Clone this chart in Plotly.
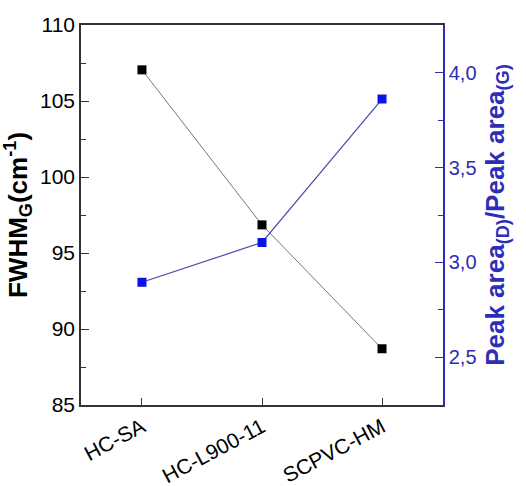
import plotly.graph_objects as go

categories = ["HC-SA", "HC-L900-11", "SCPVC-HM"]
fwhm_g = [107.05, 96.85, 88.7]
area_ratio = [2.895, 3.105, 3.862]

left_ticks = [85, 90, 95, 100, 105, 110]
right_ticks = [2.5, 3.0, 3.5, 4.0]
right_ticktext = ["2,5", "3,0", "3,5", "4,0"]

FONT = "Liberation Sans, Arial, sans-serif"
BLUE_AX = "#2d2db8"

fig = go.Figure()
fig.add_trace(go.Scatter(
    x=[0, 1, 2], y=fwhm_g, mode="lines+markers",
    line=dict(color="#777777", width=1),
    marker=dict(symbol="square", size=9, color="black"),
    yaxis="y", showlegend=False))
fig.add_trace(go.Scatter(
    x=[0, 1, 2], y=area_ratio, mode="lines+markers",
    line=dict(color="#4a4aa8", width=1.2),
    marker=dict(symbol="square", size=9, color="#0a14e6"),
    yaxis="y2", showlegend=False))

fig.update_layout(
    width=526, height=486,
    margin=dict(l=81, r=83, t=25, b=81),
    plot_bgcolor="white", paper_bgcolor="white",
    font=dict(family=FONT, color="black"),
    xaxis=dict(
        range=[-0.508, 2.508], automargin=False,
        tickvals=[0, 1, 2], ticktext=categories,
        tickangle=-28, tickfont=dict(size=21, color="black"),
        ticks="inside", ticklen=7, tickcolor="#333333", tickwidth=1,
        showline=True, linecolor="#333333", linewidth=1.5, mirror=True,
        showgrid=False, zeroline=False,
    ),
    yaxis=dict(
        range=[85, 110], tickvals=left_ticks, automargin=False,
        tickfont=dict(size=21, color="black"),
        ticks="inside", ticklen=8, tickcolor="#333333", tickwidth=1,
        minor=dict(ticks="inside", ticklen=5, dtick=2.5, tick0=85, tickcolor="#333333", showgrid=False),
        showline=True, linecolor="#333333", linewidth=1.5,
        showgrid=False, zeroline=False,
        title=dict(text="<b>FWHM<sub>G</sub>(cm<sup>-1</sup>)</b>", font=dict(size=26, color="black"), standoff=6),
    ),
    yaxis2=dict(
        overlaying="y", side="right", anchor="x", automargin=False,
        range=[2.2474, 4.2526], tickvals=right_ticks, ticktext=right_ticktext,
        tickfont=dict(size=20, color=BLUE_AX),
        ticks="inside", ticklen=8, tickcolor=BLUE_AX, tickwidth=1,
        minor=dict(ticks="inside", ticklen=5, dtick=0.25, tick0=2.5, tickcolor=BLUE_AX, showgrid=False),
        showline=True, linecolor=BLUE_AX, linewidth=1.5,
        showgrid=False, zeroline=False,
        title=dict(text="<b>Peak area<sub>(D)</sub>/Peak area<sub>(G)</sub></b>", font=dict(size=26, color=BLUE_AX), standoff=10),
    ),
)

fig.write_html("out.html")
